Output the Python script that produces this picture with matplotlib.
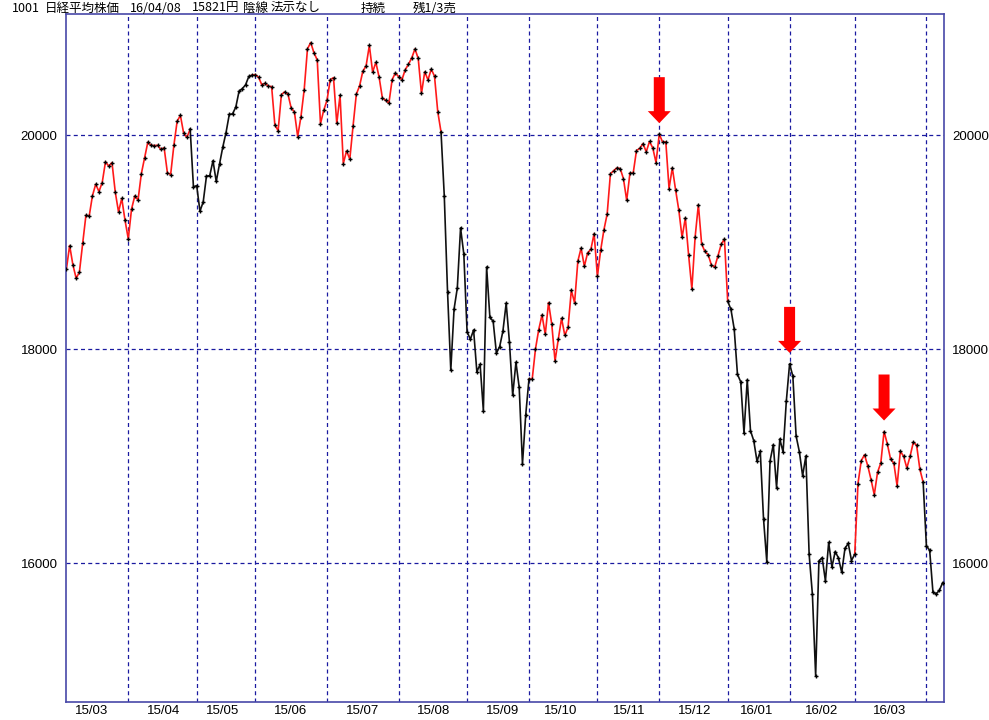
"""Nikkei 225 daily close chart (Mar 2015 - Apr 2016) with trend colouring."""

import numpy as np
import pandas as pd
import matplotlib
matplotlib.use("Agg")
import matplotlib.pyplot as plt
from matplotlib import font_manager
from matplotlib.patches import Polygon
from matplotlib.transforms import IdentityTransform

# ---- data -----------------------------------------------------------------
first_day = "2015-03-05"
last_day = "2016-04-08"
market_holidays = [
    "2015-04-29", "2015-05-04", "2015-05-05", "2015-05-06", "2015-07-20",
    "2015-09-21", "2015-09-22", "2015-09-23", "2015-10-12", "2015-11-03",
    "2015-11-23", "2015-12-23", "2015-12-31", "2016-01-01", "2016-01-11",
    "2016-02-11", "2016-03-21",
]

close_1503 = [18751, 18971, 18790, 18665, 18723, 18991, 19254, 19246, 19437, 19544,
              19476, 19560, 19754, 19713, 19746, 19471, 19286, 19411, 19206]
close_1504 = [19034, 19312, 19435, 19397, 19641, 19790, 19937, 19908, 19905, 19908,
              19869, 19885, 19653, 19634, 19909, 20133, 20187, 20020, 19983, 20058, 19520]
close_1505 = [19531, 19292, 19379, 19620, 19624, 19764, 19570, 19732, 19890, 20026,
              20196, 20202, 20264, 20413, 20437, 20473, 20551, 20563]
close_1506 = [20569, 20543, 20473, 20488, 20460, 20457, 20096, 20046, 20382, 20407,
              20387, 20257, 20219, 19990, 20174, 20428, 20809, 20868, 20772, 20706,
              20110, 20236]
close_1507 = [20329, 20522, 20540, 20112, 20376, 19737, 19855, 19779, 20089, 20385,
              20463, 20600, 20650, 20841, 20593, 20683, 20544, 20350, 20328, 20302,
              20522, 20585]
close_1508 = [20548, 20520, 20614, 20664, 20724, 20808, 20720, 20392, 20595, 20519,
              20620, 20554, 20222, 20033, 19436, 18540, 17806, 18376, 18574, 19136, 18890]
close_1509 = [18165, 18095, 18182, 17792, 17860, 17427, 18770, 18299, 18264, 17965,
              18026, 18171, 18432, 18070, 17571, 17880, 17645, 16930, 17388]
close_1510 = [17722, 17725, 18005, 18186, 18322, 18141, 18438, 18234, 17891, 18096,
              18291, 18131, 18207, 18554, 18435, 18825, 18947, 18777, 18903, 18935, 19083]
close_1511 = [18683, 18926, 19117, 19265, 19642, 19671, 19697, 19691, 19596, 19393,
              19649, 19649, 19859, 19879, 19924, 19847, 19944, 19883, 19747]
close_1512 = [20012, 19939, 19940, 19504, 19698, 19492, 19301, 19047, 19230, 18883,
              18565, 19049, 19353, 18986, 18916, 18886, 18789, 18769, 18873, 18982, 19033]
close_1601 = [18450, 18374, 18191, 17767, 17697, 17218, 17715, 17240, 17147, 16955,
              17048, 16416, 16017, 16958, 17110, 16708, 17163, 17041, 17518]
close_1602 = [17865, 17750, 17191, 17044, 16819, 17004, 16085, 15713, 14952, 16022,
              16054, 15836, 16196, 15967, 16111, 16052, 15916, 16140, 16188, 16027]
close_1603 = [16086, 16747, 16961, 17015, 16912, 16784, 16642, 16852, 16939, 17233,
              17117, 16975, 16937, 16725, 17049, 17001, 16892, 17003, 17135, 17103,
              16879, 16759]
close_1604 = [16164, 16123, 15733, 15715, 15750, 15821]

# trend state: each entry starts a run of that colour (segment ending on that day)
trend_changes = [
    ("2015-03-05", "red"), ("2015-04-30", "black"), ("2015-06-01", "red"),
    ("2015-08-21", "black"), ("2015-10-02", "red"), ("2016-01-05", "black"),
    ("2016-03-02", "red"), ("2016-04-01", "black"),
]
sell_signal_days = ["2015-12-01", "2016-02-01", "2016-03-14"]

y_ticks = [16000, 18000, 20000]
header_fields = ["1001", "日経平均株価", "16/04/08", "15821円", "陰線", "法示なし", "持続", "残1/3売"]
header_x = [12, 45, 130, 192, 243, 271, 361, 413]  # px from left

# ---- build series ---------------------------------------------------------
closes = np.array(close_1503 + close_1504 + close_1505 + close_1506 + close_1507 +
                  close_1508 + close_1509 + close_1510 + close_1511 + close_1512 +
                  close_1601 + close_1602 + close_1603 + close_1604, dtype=float)
days = pd.bdate_range(first_day, last_day)
days = days[~days.isin(pd.to_datetime(market_holidays))]
assert len(days) == len(closes), (len(days), len(closes))
idx = np.arange(len(days))

change_days = pd.to_datetime([d for d, _ in trend_changes])
colours = [trend_changes[np.searchsorted(change_days, d, side="right") - 1][1] for d in days]

month_id = days.year * 100 + days.month
month_start = idx[np.r_[True, month_id[1:] != month_id[:-1]]]
label_pos, label_txt = [], []
for m in np.unique(month_id):
    sel = idx[(month_id == m) & (days.day >= 15)]
    if len(sel):
        label_pos.append(sel[0])
        label_txt.append(days[sel[0]].strftime("%y/%m"))


def pick_fonts(*names):
    avail = {f.name for f in font_manager.fontManager.ttflist}
    return [n for n in names if n in avail] + ["DejaVu Sans"]


narrow = pick_fonts("Liberation Sans Narrow", "Liberation Sans")
cjk = pick_fonts("Noto Sans CJK JP")

# ---- figure ---------------------------------------------------------------
W, H = 989, 720
fig = plt.figure(figsize=(W / 100, H / 100), dpi=100)
ax = fig.add_axes([66 / W, (H - 702) / H, (944 - 66) / W, (702 - 14) / H])
ax.set_xlim(-0.12, len(idx) - 1 + 0.4)
ax.set_ylim(14705, 21135)

grid_kw = dict(color="#1a1aa0", lw=0.9, dashes=(3.2, 2.6), zorder=1)
for y in y_ticks:
    ax.axhline(y, **grid_kw)
for x in month_start[1:]:
    ax.axvline(x, **grid_kw)

# coloured line runs
start = 0
for i in range(1, len(idx) + 1):
    if i == len(idx) or colours[i] != colours[start]:
        a = max(start - 1, 0)
        col = "#ff1a1a" if colours[start] == "red" else "#111111"
        ax.plot(idx[a:i], closes[a:i], color=col, lw=1.2, zorder=2)
        start = i
ax.plot(idx, closes, ls="none", marker="+", ms=3.2, mew=1.0, color="black", zorder=3)

for s in ax.spines.values():
    s.set_color("#4848a8")
    s.set_linewidth(1.2)

ax.set_yticks(y_ticks)
ax.set_yticklabels([str(v) for v in y_ticks], family=narrow, fontsize=9.5)
ax.set_xticks(np.array(label_pos) + 0.8)
ax.set_xticklabels(label_txt, family=narrow, fontsize=9.5)
ax.tick_params(axis="y", length=0, pad=6, labelright=True)
ax.tick_params(axis="x", length=0, pad=2)

# red sell arrows above the marked peaks (drawn in pixel units)
fig.canvas.draw()
arrow_shape = np.array([(0, 0), (-11.5, 12), (-5.5, 12), (-5.5, 46),
                        (5.5, 46), (5.5, 12), (11.5, 12)])
for d in sell_signal_days:
    k = int(np.flatnonzero(days == pd.Timestamp(d))[0])
    px, py = ax.transData.transform((idx[k], closes[k]))
    verts = arrow_shape + np.array([px, py + 11])
    ax.add_patch(Polygon(verts, closed=True, facecolor="#ff0000", edgecolor="none",
                         transform=IdentityTransform(), zorder=4, clip_on=False))

for s, x in zip(header_fields, header_x):
    fig.text(x / W, 1 - 8 / H, s, family=cjk, fontsize=9, va="center", ha="left")

fig.savefig("out.png", dpi=100)
